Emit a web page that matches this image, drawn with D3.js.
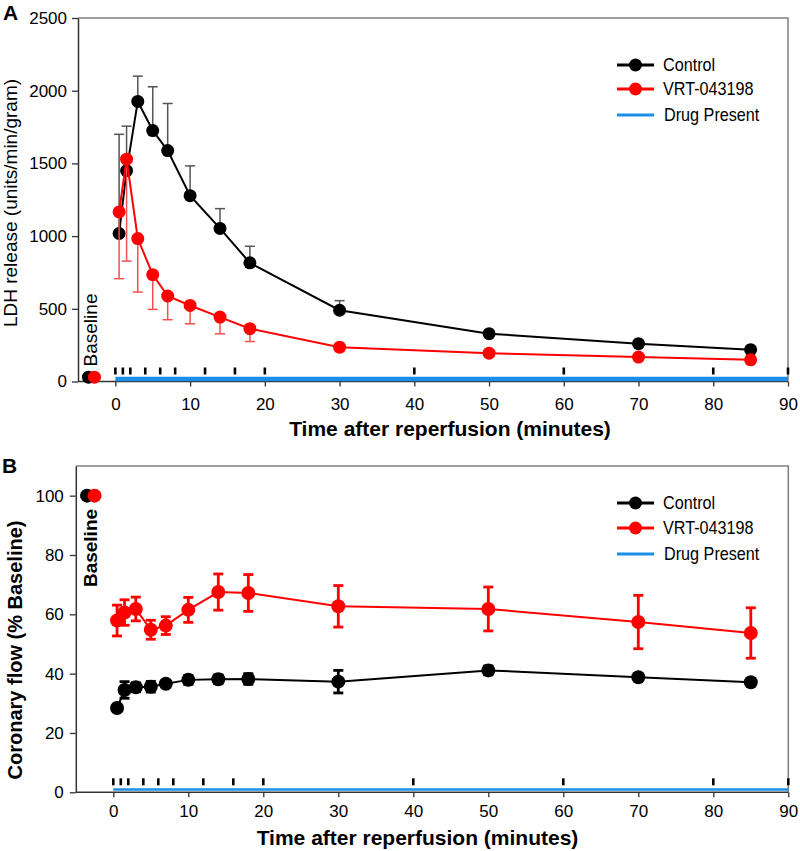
<!DOCTYPE html>
<html>
<head>
<meta charset="utf-8">
<script src="https://cdn.jsdelivr.net/npm/d3@7"></script>
<style>
  html, body { margin: 0; padding: 0; background: #fff; }
  svg { display: block; font-family: "Liberation Sans", Arial, sans-serif; }
</style>
</head>
<body>
<svg id="chart" width="800" height="851"></svg>
<script>
// ---------------- DATA ----------------
const times = [0.5, 1.5, 3, 5, 7, 10, 14, 18, 30, 50, 70, 85];
const sampleTimes = [0, 1, 2, 4, 6, 8, 12, 16, 20, 40, 60, 80, 90];
const drugRange = [0, 90];
const xTicks = [0, 10, 20, 30, 40, 50, 60, 70, 80, 90];

// Panel A: LDH release
const ldhControl    = [1018, 1450, 1926, 1726, 1588, 1278, 1053, 816, 490, 329, 260, 219];
const ldhControlErr = [682, 306, 174, 301, 324, 205, 136, 114, 66, 15, 12, 10];
const ldhVRT        = [1166, 1529, 983, 735, 588, 523, 443, 363, 236, 195, 168, 149];
const ldhVRTErr     = [459, 701, 368, 239, 163, 126, 115, 88, 30, 22, 22, 22];
const ldhBaselineX  = [-3.6, -2.8];
const ldhBaselineY  = [30, 30];
const ldhYTicks     = [0, 500, 1000, 1500, 2000, 2500];

// Panel B: Coronary flow
const flowControl    = [28.4, 34.5, 35.4, 35.6, 36.6, 37.9, 38.1, 38.2, 37.3, 41.1, 38.8, 37.1];
const flowControlErr = [1.0, 2.8, 1.5, 1.8, 1.0, 1.5, 1.5, 1.8, 3.8, 1.5, 1.0, 0.8];
const flowVRT        = [57.9, 60.6, 61.8, 54.8, 56.2, 61.5, 67.5, 67.2, 62.7, 61.8, 57.4, 53.7];
const flowVRTErr     = [5.2, 4.3, 4.0, 3.2, 3.0, 4.2, 6.1, 6.2, 7.0, 7.4, 9.0, 8.5];
const flowBaselineX  = [-3.5, -2.5];
const flowBaselineY  = [100, 100];
const flowYTicks     = [0, 20, 40, 60, 80, 100];

const legendLabels = ["Control", "VRT-043198", "Drug Present"];

// ---------------- STYLE ----------------
const BLACK = "#000000", RED = "#ff0000", BLUE = "#1b8fe8";
const svg = d3.select("#chart");

function panel(cfg) {
  const g = svg.append("g");
  const x = d3.scaleLinear().domain([-5, 90]).range([cfg.left, cfg.right]);
  const y = d3.scaleLinear().domain(cfg.yDomain).range([cfg.bottom, cfg.top]);

  // frame (top & right)
  g.append("path")
    .attr("d", `M${cfg.left},${cfg.top}H${cfg.right}V${cfg.bottom}`)
    .attr("fill", "none").attr("stroke", "#808080").attr("stroke-width", 1.5);

  // axes
  const xa = g.append("g").attr("transform", `translate(0,${cfg.bottom})`)
    .call(d3.axisBottom(x).tickValues(xTicks).tickFormat(d3.format("d"))
      .tickSize(5).tickPadding(cfg.xPad).tickSizeOuter(0));
  const ya = g.append("g").attr("transform", `translate(${cfg.left},0)`)
    .call(d3.axisLeft(y).tickValues(cfg.yTicks).tickFormat(d3.format("d"))
      .tickSize(6).tickPadding(cfg.yPad).tickSizeOuter(0));
  [xa, ya].forEach(a => {
    a.select(".domain").attr("stroke", "#333").attr("stroke-width", 1.5);
    a.selectAll(".tick line").attr("stroke", "#333").attr("stroke-width", 1.3);
    a.selectAll("text").attr("fill", "#000").attr("font-family", "Liberation Sans, Arial, sans-serif");
  });
  xa.selectAll("text").attr("font-size", 17);
  ya.selectAll("text").attr("font-size", 17);
  xa.select(".domain").attr("d", `M${cfg.left},0H${cfg.right}`);

  // drug present bar
  g.append("line")
    .attr("x1", x(drugRange[0])).attr("x2", x(drugRange[1]))
    .attr("y1", cfg.bottom - cfg.blueOff).attr("y2", cfg.bottom - cfg.blueOff)
    .attr("stroke", BLUE).attr("stroke-width", cfg.blueW);

  // sample dashes
  g.selectAll(".dash").data(sampleTimes).enter().append("line")
    .attr("x1", d => x(d)).attr("x2", d => x(d))
    .attr("y1", cfg.bottom - 14).attr("y2", cfg.bottom - 7)
    .attr("stroke", "#000").attr("stroke-width", 2.6);

  // baseline text
  g.append("text")
    .attr("transform", `translate(${cfg.baseTextX},${cfg.baseTextY}) rotate(-90)`)
    .attr("text-anchor", "middle")
    .attr("font-size", cfg.baseTextSize)
    .attr("font-weight", cfg.bold ? "bold" : "normal")
    .text("Baseline");

  const line = d3.line().x((d, i) => x(times[i])).y(d => y(d));

  function drawSeries(vals, errs, color, errColor, errMode, errW, capW, r) {
    const eg = g.append("g").attr("stroke", errColor).attr("stroke-width", errW).attr("fill", "none");
    vals.forEach((v, i) => {
      const xi = x(times[i]);
      const hi = errMode === "down" ? v : v + errs[i];
      const lo = errMode === "up" ? v : v - errs[i];
      eg.append("line").attr("x1", xi).attr("x2", xi).attr("y1", y(lo)).attr("y2", y(hi));
      if (errMode !== "down") eg.append("line").attr("x1", xi - capW).attr("x2", xi + capW).attr("y1", y(hi)).attr("y2", y(hi));
      if (errMode !== "up") eg.append("line").attr("x1", xi - capW).attr("x2", xi + capW).attr("y1", y(lo)).attr("y2", y(lo));
    });
    g.append("path").datum(vals).attr("d", line)
      .attr("fill", "none").attr("stroke", color).attr("stroke-width", 2);
    g.selectAll(null).data(vals).enter().append("circle")
      .attr("cx", (d, i) => x(times[i])).attr("cy", d => y(d))
      .attr("r", r).attr("fill", color);
  }

  g.append("circle").attr("cx", x(cfg.baseX[0])).attr("cy", y(cfg.baseY[0])).attr("r", cfg.r).attr("fill", BLACK);
  drawSeries(cfg.control, cfg.controlErr, BLACK, cfg.ctrlErrColor, cfg.ctrlErrMode, cfg.errW, cfg.capW, cfg.r);
  g.append("circle").attr("cx", x(cfg.baseX[1])).attr("cy", y(cfg.baseY[1])).attr("r", cfg.r).attr("fill", RED);
  drawSeries(cfg.vrt, cfg.vrtErr, RED, cfg.vrtErrColor, cfg.vrtErrMode, cfg.errW, cfg.capW, cfg.r);

  // axis titles
  g.append("text")
    .attr("x", cfg.xTitleX).attr("y", cfg.xTitleY)
    .attr("text-anchor", "middle").attr("font-size", 21).attr("font-weight", "bold")
    .text("Time after reperfusion (minutes)");
  g.append("text")
    .attr("transform", `translate(${cfg.yTitleX},${cfg.yTitleY}) rotate(-90)`)
    .attr("text-anchor", "middle").attr("font-size", cfg.yTitleSize)
    .attr("font-weight", cfg.bold ? "bold" : "normal")
    .text(cfg.yTitle);

  // panel letter
  g.append("text").attr("x", cfg.letterX).attr("y", cfg.letterY)
    .attr("font-size", 21).attr("font-weight", "bold").text(cfg.letter);

  // legend
  const lg = g.append("g");
  const colors = [BLACK, RED, BLUE];
  legendLabels.forEach((lab, i) => {
    const ly = cfg.legY[i];
    lg.append("line").attr("x1", 617).attr("x2", 654).attr("y1", ly).attr("y2", ly)
      .attr("stroke", colors[i]).attr("stroke-width", 3);
    if (i < 2) lg.append("circle").attr("cx", 635.5).attr("cy", ly).attr("r", 6.5).attr("fill", colors[i]);
    lg.append("text").attr("transform", `translate(${i === 2 ? 664 : 663},${ly}) scale(0.9,1)`)
      .attr("dy", "0.36em").attr("font-size", 18).text(lab);
  });
}

panel({
  left: 78, right: 788, top: 18, bottom: 381.5,
  yDomain: [0, 2500], yTicks: ldhYTicks, xPad: 11, yPad: 5,
  blueOff: 2.5, blueW: 4.5,
  baseTextX: 97, baseTextY: 330, baseTextSize: 19, bold: false,
  control: ldhControl, controlErr: ldhControlErr, vrt: ldhVRT, vrtErr: ldhVRTErr,
  ctrlErrColor: "#555555", ctrlErrMode: "up", vrtErrColor: "#f25050", vrtErrMode: "down",
  errW: 1.5, capW: 5, r: 6.5,
  baseX: ldhBaselineX, baseY: ldhBaselineY,
  xTitleX: 450, xTitleY: 436, yTitleX: 17, yTitleY: 203, yTitleSize: 19,
  yTitle: "LDH release (units/min/gram)",
  letter: "A", letterX: 3, letterY: 20,
  legY: [65, 89, 115]
});

panel({
  left: 75.8, right: 788.3, top: 466, bottom: 792.3,
  yDomain: [0, 110], yTicks: flowYTicks, xPad: 8, yPad: 6,
  blueOff: 2.8, blueW: 2.5,
  baseTextX: 97, baseTextY: 548, baseTextSize: 19, bold: true,
  control: flowControl, controlErr: flowControlErr, vrt: flowVRT, vrtErr: flowVRTErr,
  ctrlErrColor: BLACK, ctrlErrMode: "both", vrtErrColor: RED, vrtErrMode: "both",
  errW: 2.8, capW: 5, r: 7,
  baseX: flowBaselineX, baseY: flowBaselineY,
  xTitleX: 417.5, xTitleY: 845, yTitleX: 22, yTitleY: 650, yTitleSize: 20,
  yTitle: "Coronary flow (% Baseline)",
  letter: "B", letterX: 2, letterY: 473,
  legY: [503, 528, 554]
});
</script>
</body>
</html>
